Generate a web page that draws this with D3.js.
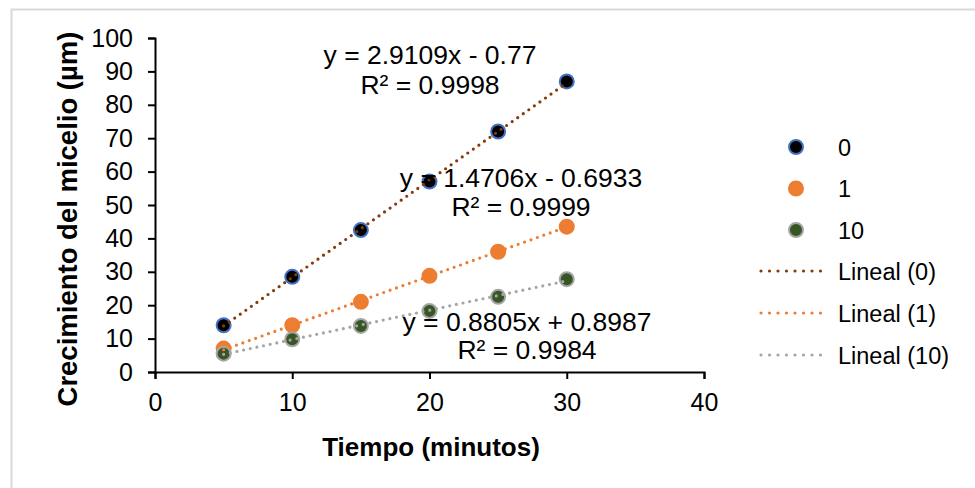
<!DOCTYPE html>
<html>
<head>
<meta charset="utf-8">
<script src="https://cdn.jsdelivr.net/npm/d3@7"></script>
<style>
  body { margin: 0; background: #fff; }
  text { font-family: "Liberation Sans", Arial, sans-serif; fill: #000; }
</style>
</head>
<body>
<svg id="chart" width="975" height="488"></svg>
<script>
// data
var tiempos = [5, 10, 15, 20, 25, 30];
var serie0 = [14, 28.5, 42.5, 57, 72, 87];
var serie1 = [7, 14, 21, 28.8, 36, 43.5];
var serie10 = [5.5, 9.8, 13.8, 18.3, 22.5, 27.8];
var nombres = ["0", "1", "10"];
// trendline coefficients (slope, intercept) and labels
var pendientes = [2.9109, 1.4706, 0.8805];
var intercepts = [-0.77, -0.6933, 0.8987];
var ecuaciones = ["y = 2.9109x - 0.77", "y = 1.4706x - 0.6933", "y = 0.8805x + 0.8987"];
var r2 = ["R² = 0.9998", "R² = 0.9999", "R² = 0.9984"];
var xTicks = [0, 10, 20, 30, 40];
var yTicks = [0, 10, 20, 30, 40, 50, 60, 70, 80, 90, 100];

var svg = d3.select("#chart");

// outer frame
svg.append("rect")
    .attr("x", 11.5).attr("y", 9.5)
    .attr("width", 1000).attr("height", 600)
    .attr("fill", "none").attr("stroke", "#d9d9d9").attr("stroke-width", 2);

var x = d3.scaleLinear().domain([0, 40]).range([155, 704]);
var y = d3.scaleLinear().domain([0, 100]).range([372, 38]);

var series = [
    {name: "0", values: serie0, fill: "#000000", stroke: "#4472c4", trend: "#843c0c"},
    {name: "1", values: serie1, fill: "#ed7d31", stroke: "#ed7d31", trend: "#ed7d31"},
    {name: "10", values: serie10, fill: "#375623", stroke: "#a5a5a5", trend: "#a5a5a5"}
];

// axes
var gx = svg.append("g")
    .attr("transform", "translate(0," + y(0) + ")")
    .call(d3.axisBottom(x).tickValues(xTicks).tickSize(7).tickPadding(14));
var gy = svg.append("g")
    .attr("transform", "translate(" + x(0) + ",0)")
    .call(d3.axisLeft(y).tickValues(yTicks).tickSize(7).tickPadding(15));

[gx, gy].forEach(function(g) {
    g.select(".domain").attr("stroke", "#000").attr("stroke-width", 2);
    g.selectAll(".tick line").attr("stroke", "#000").attr("stroke-width", 2);
    g.selectAll(".tick text")
        .attr("font-size", 25)
        .attr("font-family", "Liberation Sans, Arial, sans-serif")
        .attr("fill", "#000");
});

// axis titles
svg.append("text")
    .attr("x", 431).attr("y", 456)
    .attr("text-anchor", "middle")
    .attr("font-size", 26).attr("font-weight", "bold")
    .text("Tiempo (minutos)");

svg.append("text")
    .attr("transform", "translate(77," + 219 + ") rotate(-90)")
    .attr("text-anchor", "middle")
    .attr("font-size", 27.5).attr("font-weight", "bold")
    .text("Crecimiento del micelio (µm)");

// markers
series.forEach(function(s) {
    svg.append("g").selectAll("circle")
        .data(s.values)
        .enter().append("circle")
        .attr("cx", function(d, i) { return x(tiempos[i]); })
        .attr("cy", function(d) { return y(d); })
        .attr("r", 7)
        .attr("fill", s.fill)
        .attr("stroke", s.stroke)
        .attr("stroke-width", 2);
});

// dotted trendlines, drawn over the markers
var line = d3.line()
    .x(function(d) { return x(d[0]); })
    .y(function(d) { return y(d[1]); });

series.forEach(function(s, k) {
    var x0 = d3.min(tiempos), x1 = d3.max(tiempos);
    var pts = [[x0, pendientes[k] * x0 + intercepts[k]], [x1, pendientes[k] * x1 + intercepts[k]]];
    svg.append("path")
        .attr("d", line(pts))
        .attr("fill", "none")
        .attr("stroke", s.trend)
        .attr("stroke-width", 3.2)
        .attr("stroke-linecap", "round")
        .attr("stroke-dasharray", "0 6.8");
});

// equation labels
var eqPos = [[430, 64, 430, 94], [521, 187, 521, 216], [527, 331, 527, 359]];
eqPos.forEach(function(p, k) {
    svg.append("text").attr("x", p[0]).attr("y", p[1])
        .attr("text-anchor", "middle").attr("font-size", 26.5)
        .text(ecuaciones[k]);
    svg.append("text").attr("x", p[2]).attr("y", p[3])
        .attr("text-anchor", "middle").attr("font-size", 26.5)
        .text(r2[k]);
});

// legend
var leg = svg.append("g");
series.forEach(function(s, k) {
    var yy = 147 + k * 41.5;
    leg.append("circle")
        .attr("cx", 796).attr("cy", yy).attr("r", 7)
        .attr("fill", s.fill).attr("stroke", s.stroke).attr("stroke-width", 2);
    leg.append("text").attr("x", 838).attr("y", yy + 8.5)
        .attr("font-size", 23.5).text(s.name);
});
series.forEach(function(s, k) {
    var yy = 271 + k * 42;
    leg.append("line")
        .attr("x1", 761).attr("x2", 829).attr("y1", yy).attr("y2", yy)
        .attr("stroke", s.trend).attr("stroke-width", 3.2)
        .attr("stroke-linecap", "round").attr("stroke-dasharray", "0 8.5");
    leg.append("text").attr("x", 838).attr("y", yy + 8.5)
        .attr("font-size", 23.5).text("Lineal (" + nombres[k] + ")");
});
</script>
</body>
</html>
